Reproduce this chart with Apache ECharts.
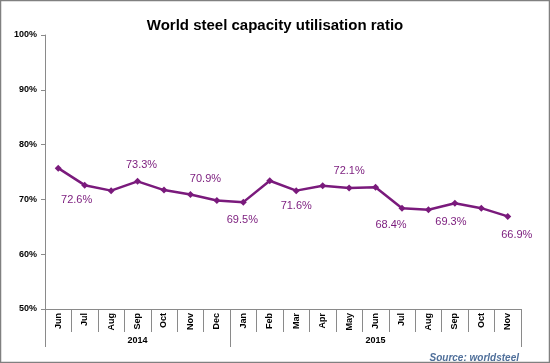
<!DOCTYPE html>
<html><head><meta charset="utf-8">
<script src="https://cdn.jsdelivr.net/npm/echarts@6/dist/echarts.min.js"></script>
<style>html,body{margin:0;padding:0;background:#fff}#c{width:550px;height:363px}</style>
</head><body><div id="c"></div>
<script>
// ---- data ----
const months = ['Jun','Jul','Aug','Sep','Oct','Nov','Dec','Jan','Feb','Mar','Apr','May','Jun','Jul','Aug','Sep','Oct','Nov'];
const years = ['2014','2015'];
const monthsPerYear = [7, 11];
const utilisation = [75.7,72.6,71.6,73.3,71.7,70.9,69.8,69.5,73.4,71.6,72.5,72.1,72.2,68.4,68.1,69.3,68.4,66.9];
const yMin = 50, yMax = 100, yStep = 10;

// ---- layout / style ----
const FONT = 'Liberation Sans, Arial, sans-serif';
const PURPLE = '#7a1a7c';
const AXIS = '#8a8a8a';
// data-label placement: [position, dx, dy]
const labelPlacement = {
  1:['bottom',-8,0], 3:['top',4,-1], 5:['top',15,0], 7:['bottom',-1,3], 9:['bottom',0,0],
  11:['top',0,-2], 13:['bottom',-11,2], 15:['bottom',-4,4], 17:['bottom',9,4]
};

// year boundaries and label positions from data
const yearStart = [];
const yearMid = {};
let acc = 0;
monthsPerYear.forEach((n, i) => { yearStart.push(acc); yearMid[Math.floor((2*acc + n - 1)/2)] = years[i]; acc += n; });

const seriesData = utilisation.map((v, i) => {
  const p = labelPlacement[i];
  return p ? {value: v, label: {show: true, position: p[0], offset: [p[1], p[2]]}} : {value: v};
});

const chart = echarts.init(document.getElementById('c'), null, {renderer: 'canvas'});
chart.setOption({
  animation: false,
  backgroundColor: '#fff',
  title: [
    {text: 'World steel capacity utilisation ratio', left: 'center', top: 13,
     textStyle: {fontFamily: FONT, fontSize: 15, fontWeight: 'bold', color: '#000'}},
    {text: 'Source: worldsteel', right: 26, top: 348,
     textStyle: {fontFamily: FONT, fontSize: 10, fontWeight: 'bold', fontStyle: 'italic', color: '#4f6f9a'}}
  ],
  graphic: [{type: 'rect', shape: {x: 0.5, y: 0.5, width: 549, height: 362},
    style: {fill: 'none', stroke: '#808080', lineWidth: 1.5}, silent: true}],
  grid: {left: 45, right: 29, top: 35, bottom: 54},
  xAxis: [
    {type: 'category', data: months, position: 'bottom',
     axisLine: {lineStyle: {color: AXIS, width: 1}},
     axisTick: {show: true, interval: 0, length: 23, lineStyle: {color: AXIS}},
     axisLabel: {interval: 0, rotate: 90, margin: 4, fontFamily: FONT, fontSize: 9, fontWeight: 'bold', color: '#000'}},
    {type: 'category', data: months, position: 'bottom', offset: 23,
     axisLine: {show: false},
     axisTick: {show: true, length: 15, lineStyle: {color: AXIS},
       interval: (i) => yearStart.indexOf(i) >= 0},
     axisLabel: {interval: 0, margin: 4, fontFamily: FONT, fontSize: 9, fontWeight: 'bold', color: '#000',
       formatter: (v, i) => yearMid[i] || ''}}
  ],
  yAxis: {type: 'value', min: yMin, max: yMax, interval: yStep,
    axisLine: {show: true, lineStyle: {color: AXIS, width: 1}},
    axisTick: {show: true, length: 4, lineStyle: {color: AXIS}},
    splitLine: {show: false},
    axisLabel: {formatter: '{value}%', margin: 8, fontFamily: FONT, fontSize: 9, fontWeight: 'bold', color: '#000'}},
  series: [{
    type: 'line', xAxisIndex: 0, data: seriesData,
    symbol: 'diamond', symbolSize: 7,
    lineStyle: {color: PURPLE, width: 2.5},
    itemStyle: {color: PURPLE},
    label: {show: false, distance: 6, fontFamily: FONT, fontSize: 11, color: PURPLE,
      formatter: (p) => p.value.toFixed(1) + '%'}
  }]
});
</script></body></html>
